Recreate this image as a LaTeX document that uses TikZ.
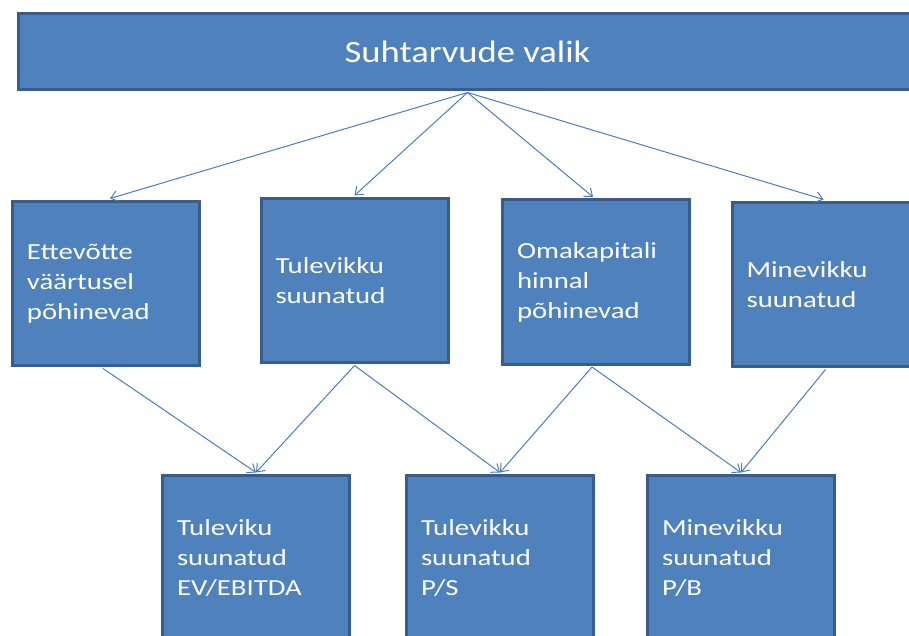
\documentclass[tikz,border=0pt]{standalone}
\usepackage{fontspec}
\setmainfont{Carlito}[FakeStretch=1.18]
\newfontfamily\boxfont{Carlito}[FakeStretch=1.25]
\usetikzlibrary{arrows.meta,calc}
\definecolor{boxfill}{HTML}{4F81BD}
\definecolor{boxline}{HTML}{385D8A}
\definecolor{arrowc}{HTML}{4A7EBB}
\begin{document}
\begin{tikzpicture}[x=1pt,y=-1pt,
  box/.style={draw=boxline, fill=boxfill, line width=3pt, text=white,
    minimum width=187pt, minimum height=164pt, inner xsep=14.5pt, inner ysep=0pt,
    text width=158pt, align=left, font=\boxfont\fontsize{23}{30}\selectfont},
  titlebox/.style={draw=boxline, fill=boxfill, line width=3pt, text=white,
    minimum width=898pt, minimum height=76pt, inner sep=0pt,
    font=\fontsize{31}{36}\selectfont},
  conn/.style={draw=arrowc, line width=1pt, -{Straight Barb[length=7pt,width=11pt]}}]
\useasboundingbox (0,0) rectangle (909,636);
\node[titlebox] (top) at (467.5,51.5) {Suhtarvude valik};
\node[box] (b1) at (106,283.5) {Ettevõtte\\väärtusel\\põhinevad};
\node[box] (b2) at (354.5,280.5) {Tulevikku\\suunatud};
\node[box] (b3) at (596,282) {Omakapitali\\hinnal\\põhinevad};
\node[box] (b4) at (825.5,284.5) {Minevikku\\suunatud};
\node[box] (b5) at (256,557.5) {Tuleviku\\suunatud\\EV/EBITDA};
\node[box] (b6) at (500,557.5) {Tulevikku\\suunatud\\P/S};
\node[box] (b7) at (741,557.5) {Minevikku\\suunatud\\P/B};
\coordinate (t1) at ($(b1.north)+(4,-1.5)$);
\coordinate (t2) at ($(b2.north)+(0,-1.5)$);
\coordinate (t3) at ($(b3.north)+(-3,-1.5)$);
\coordinate (t4) at ($(b4.north)+(-2,-1.5)$);
\coordinate (s0) at ($(top.south)+(0,1.5)$);
\draw[conn] (s0) -- (t1);
\draw[conn] (s0) -- (t2);
\draw[conn] (s0) -- (t3);
\draw[conn] (s0) -- (t4);
\coordinate (u1) at ($(b1.south)+(-3,1.5)$);
\coordinate (u2) at ($(b2.south)+(0,1.5)$);
\coordinate (u3) at ($(b3.south)+(-4,1.5)$);
\coordinate (u4) at ($(b4.south)+(0,1.5)$);
\coordinate (d5) at ($(b5.north)+(0,-1.5)$);
\coordinate (d6) at ($(b6.north)+(0,-1.5)$);
\coordinate (d7) at ($(b7.north)+(0,-1.5)$);
\draw[conn] (u1) -- (d5);
\draw[conn] (u2) -- (d5);
\draw[conn] (u2) -- (d6);
\draw[conn] (u3) -- (d6);
\draw[conn] (u3) -- (d7);
\draw[conn] (u4) -- (d7);
\end{tikzpicture}
\end{document}
